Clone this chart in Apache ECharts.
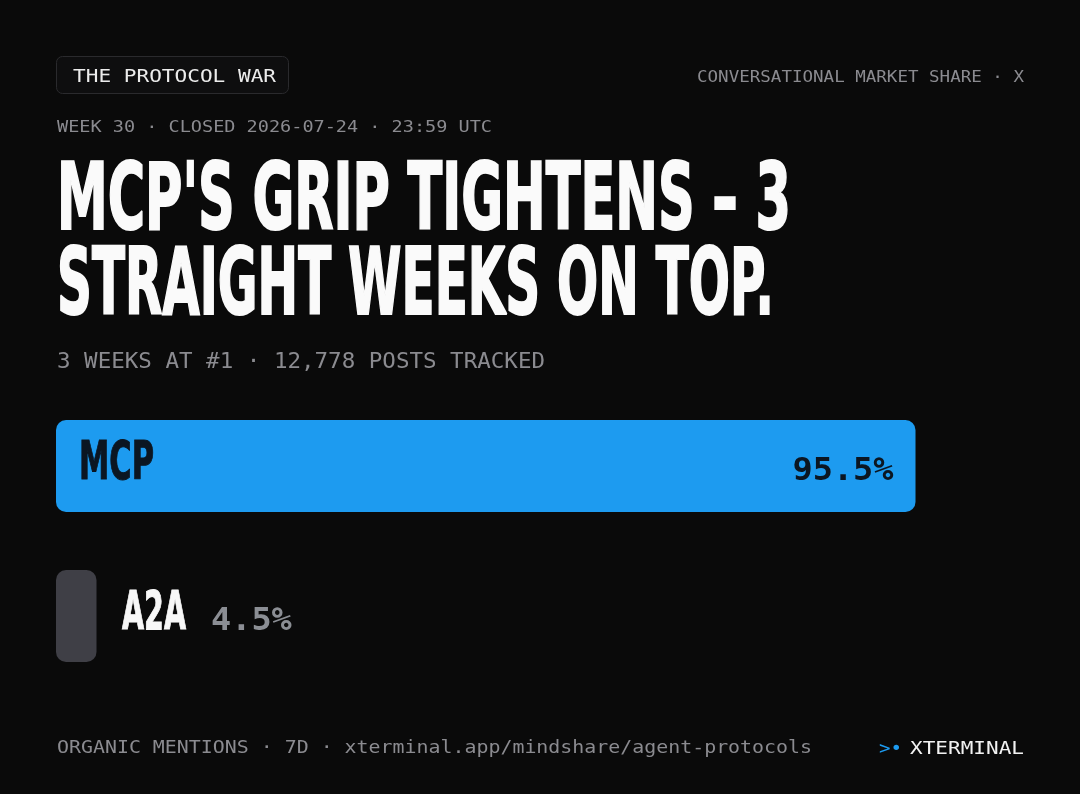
<!DOCTYPE html>
<html><head><meta charset="utf-8">
<script src="https://cdn.jsdelivr.net/npm/echarts@6/dist/echarts.min.js"></script>
<style>html,body{margin:0;padding:0;background:#0a0a0a;}#c{width:1080px;height:794px;}</style>
</head><body><div id="c"></div>
<script>
// ---- data ----
const categories = ['MCP', 'A2A'];
const shares = [95.5, 4.5];
const barColors = ['#1d9bf0', '#3f3f46'];
const badgeText = 'THE PROTOCOL WAR';
const kickerText = 'CONVERSATIONAL MARKET SHARE · X';
const weekText = 'WEEK 30 · CLOSED 2026-07-24 · 23:59 UTC';
const titleLines = ["MCP'S GRIP TIGHTENS – 3", 'STRAIGHT WEEKS ON TOP.'];
const subtitleText = '3 WEEKS AT #1 · 12,778 POSTS TRACKED';
const footerText = 'ORGANIC MENTIONS · 7D · xterminal.app/mindshare/agent-protocols';
const brandMark = '>•';
const brandText = 'XTERMINAL';

// ---- helpers ----
const MONO = "'DejaVu Sans Mono', monospace";
const COND = "'DejaVu Sans Condensed', 'DejaVu Sans', sans-serif";
const mctx = document.createElement('canvas').getContext('2d');
function fit(text, font, w) { mctx.font = font; return w / mctx.measureText(text).width; }
function txt(text, x, y, size, font, fill, w, align, strokeW) {
  const f = font.replace('{s}', size + 'px');
  const style = { text: text, font: f, fill: fill, align: align || 'left', verticalAlign: 'middle' };
  if (strokeW) { style.stroke = fill; style.lineWidth = strokeW; }
  return {
    type: 'text', x: x, y: y + 0.1 * size, scaleX: fit(text, f, w - (strokeW || 0)), silent: true, z: 10,
    style: style
  };
}

const chart = echarts.init(document.getElementById('c'), null, { renderer: 'canvas' });
chart.setOption({
  backgroundColor: '#0a0a0a',
  animation: false,
  grid: { left: 56, right: 124, top: 391, bottom: 103 },
  xAxis: { type: 'value', min: 0, max: 100, show: false },
  yAxis: { type: 'category', data: categories, inverse: true, show: false },
  series: [{
    type: 'bar', silent: true, barWidth: 92,
    itemStyle: { borderRadius: 10 },
    data: shares.map((v, i) => ({ value: v, itemStyle: { color: barColors[i] } }))
  }]
});

const g = [];
// badge
g.push({ type: 'rect', shape: { x: 56.5, y: 56.5, width: 232, height: 37, r: 6 }, silent: true,
  style: { fill: '#0e0e0f', stroke: '#2a2a2d', lineWidth: 1 } });
g.push(txt(badgeText, 73, 76, 18, '{s} ' + MONO, '#ececec', 203));
g.push(txt(kickerText, 1024, 76.5, 16, '{s} ' + MONO, '#8b8b90', 327, 'right'));
g.push(txt(weekText, 57, 126, 16, '{s} ' + MONO, '#8b8b90', 435));
// title
g.push(txt(titleLines[0], 57, 196, 93, 'bold {s} ' + COND, '#fafafa', 736, 'left', 2));
g.push(txt(titleLines[1], 57, 280.5, 93, 'bold {s} ' + COND, '#fafafa', 719, 'left', 2));
g.push(txt(subtitleText, 57, 360.5, 22, '{s} ' + MONO, '#8b8b90', 488));
// footer
g.push(txt(footerText, 57, 747, 18, '{s} ' + MONO, '#8b8b90', 755));
g.push(txt(brandMark, 902, 747.5, 18, '{s} ' + MONO, '#1d9bf0', 23, 'right'));
g.push(txt(brandText, 1024, 747.5, 18, '{s} ' + MONO, '#f2f2f2', 114, 'right'));

// bar labels, positioned through the chart's own scales
const nameW = { MCP: 76, A2A: 65 };
shares.forEach((v, i) => {
  const cat = categories[i];
  const p0 = chart.convertToPixel({ gridIndex: 0 }, [0, cat]);
  const p1 = chart.convertToPixel({ gridIndex: 0 }, [v, cat]);
  const yc = p0[1];
  const valStr = v.toFixed(1) + '%';
  const vw = valStr.length * 20.2;
  if (v > 20) {
    g.push(txt(cat, p0[0] + 23, yc - 6, 53, 'bold {s} ' + COND, '#0b1622', nameW[cat] || 76, 'left', 1));
    g.push(txt(valStr, p1[0] - 22, yc + 2.5, 32, 'bold {s} ' + MONO, '#0b1622', vw, 'right'));
  } else {
    const nx = p1[0] + 25.5;
    const nw = nameW[cat] || 65;
    g.push(txt(cat, nx, yc - 6, 53, 'bold {s} ' + COND, '#f7f7f7', nw, 'left', 1));
    g.push(txt(valStr, nx + nw + 24, yc + 2.5, 32, 'bold {s} ' + MONO, '#8b8e94', vw));
  }
});
chart.setOption({ graphic: g });
</script>
</body></html>
